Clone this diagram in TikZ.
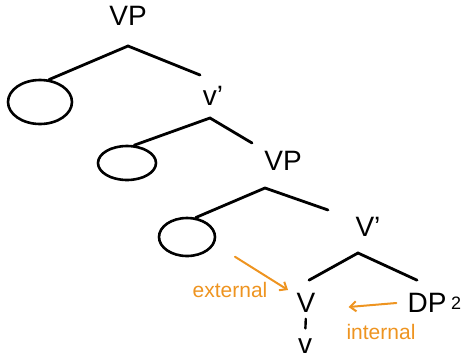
\documentclass[tikz,border=0pt]{standalone}
\usepackage{fontspec}
\setmainfont{Liberation Sans}
\usetikzlibrary{shapes.geometric, arrows.meta, positioning, calc}
\definecolor{notecolor}{HTML}{EE9420}

\begin{document}
\begin{tikzpicture}[x=1pt, y=-1pt,
    cat/.style={
        font=\fontsize{28}{30}\selectfont,
        inner sep=1pt
    },
    blob/.style={
        draw,
        ellipse,
        line width=2.6pt,
        inner sep=0pt
    },
    branch/.style={
        line width=2.8pt,
        line cap=round
    },
    note/.style={
        font=\fontsize{21}{24}\selectfont,
        color=notecolor
    },
    pointer/.style={
        -{Straight Barb[length=6pt, width=10pt]},
        line width=2pt,
        line cap=round,
        color=notecolor
    }
]
\useasboundingbox (0,0) rectangle (468,360);

% Top VP
\node[cat] (vp1) at (128,16) {VP};
\coordinate (ap1) at (128,46);
\coordinate (r1) at (200,75);
\node[blob, minimum width=64pt, minimum height=44pt] (c1) at (40,102) {};
\draw[branch] (c1.68) -- (ap1) -- (r1);

% v'
\node[cat] (vbar) at (213,96) {v'};
\coordinate (ap2) at (210,118);
\coordinate (r2) at (252,143);
\node[blob, minimum width=58pt, minimum height=34pt] (c2) at (127,163) {};
\draw[branch] (c2.68) -- (ap2) -- (r2);

% Lower VP
\node[cat] (vp2) at (283,161) {VP};
\coordinate (ap3) at (265,188);
\coordinate (r3) at (328,210);
\node[blob, minimum width=56pt, minimum height=38pt] (c3) at (187,237) {};
\draw[branch] (c3.66) -- (ap3) -- (r3);

% V'
\node[cat] (vbar2) at (368,227) {V'};
\coordinate (ap4) at (358,253);
\node[cat] (vhead) at (306,303) {V};
\node[cat] (dp) at (427,303) {DP};
\node[font=\fontsize{18}{20}\selectfont, anchor=west] (sub) at (dp.east) {\raisebox{-8pt}{2}};
\draw[branch] ($(vhead.north)+(3,-12)$) -- (ap4) -- ($(dp.north)+(-10,-12)$);

% little v
\node[cat] (vlow) at (305,346) {v};
\draw[line width=2.4pt, line cap=round, shorten <=5pt, shorten >=9pt] (vhead.south) -- (vlow.north);

% Notes
\node[note] (ext) at (230,290) {external};
\coordinate (extend) at (288,290);
\draw[pointer] ($(ext.north)+(5,-22)$) -- (extend);
\node[note] (int) at (381,332) {internal};
\draw[pointer] ($(dp.west)+(-10,0)$) -- ($(vhead.east)+(32,4)$);

\end{tikzpicture}
\end{document}
